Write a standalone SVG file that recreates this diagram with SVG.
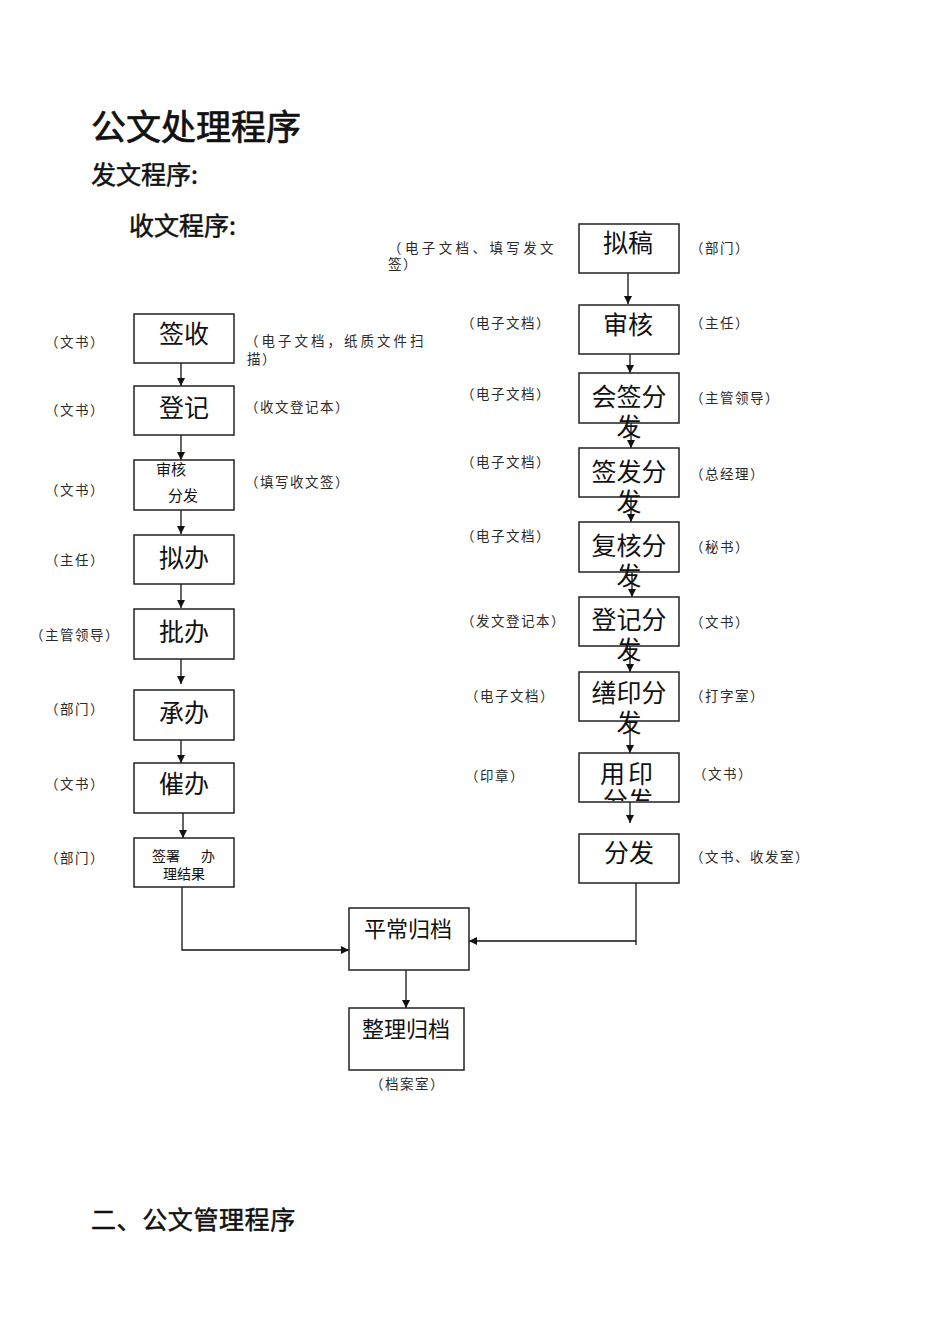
<svg xmlns="http://www.w3.org/2000/svg" width="950" height="1344" viewBox="0 0 950 1344">
<style>
text{font-family:"Noto Sans CJK SC","Noto Sans CJK JP",sans-serif;fill:#111}
.h1{font-size:35px;stroke:#111;stroke-width:0.7}
.h2{font-size:25px;stroke:#111;stroke-width:0.5}
.bt{font-size:25px}
.mid{text-anchor:middle}
.sm{font-size:15px}
.lb{font-size:13.5px;fill:#2a2a2a;letter-spacing:1.5px}
.box{fill:#fff;stroke:#222;stroke-width:1.5}
.ln{fill:none;stroke:#111;stroke-width:1.3}
</style>
<defs>
<marker id="ah" viewBox="0 0 10 10" refX="10" refY="5" markerWidth="8" markerHeight="10" markerUnits="userSpaceOnUse" orient="auto">
<path d="M0,0 L10,5 L0,10 z" fill="#111"/>
</marker>
<clipPath id="clipYY"><rect x="580" y="754" width="98" height="47"/></clipPath>
</defs>
<rect width="950" height="1344" fill="#fff"/>

<g id="headings">
<text class="h1" x="91" y="140">公文处理程序</text>
<text class="h2" x="91" y="184">发文程序:</text>
<text class="h2" x="129" y="235">收文程序:</text>
<text class="h2" x="91" y="1229" style="letter-spacing:0.6px">二、公文管理程序</text>
</g>

<g id="connectors">
<line class="ln" x1="181" y1="363" x2="181" y2="386" marker-end="url(#ah)"/>
<line class="ln" x1="181" y1="435" x2="181" y2="460" marker-end="url(#ah)"/>
<line class="ln" x1="181" y1="510" x2="181" y2="534" marker-end="url(#ah)"/>
<line class="ln" x1="181" y1="584" x2="181" y2="608" marker-end="url(#ah)"/>
<line class="ln" x1="181" y1="659" x2="181" y2="684" marker-end="url(#ah)"/>
<line class="ln" x1="181" y1="740" x2="181" y2="763" marker-end="url(#ah)"/>
<line class="ln" x1="183" y1="813" x2="183" y2="838" marker-end="url(#ah)"/>
<polyline class="ln" points="182,887 182,950 349,950" marker-end="url(#ah)"/>

<line class="ln" x1="628" y1="273" x2="628" y2="304" marker-end="url(#ah)"/>
<line class="ln" x1="630" y1="354" x2="630" y2="373" marker-end="url(#ah)"/>
<line class="ln" x1="631" y1="423" x2="631" y2="448" marker-end="url(#ah)"/>
<line class="ln" x1="631" y1="497" x2="631" y2="522" marker-end="url(#ah)"/>
<line class="ln" x1="632" y1="572" x2="632" y2="597" marker-end="url(#ah)"/>
<line class="ln" x1="630" y1="646" x2="630" y2="672" marker-end="url(#ah)"/>
<line class="ln" x1="630" y1="721" x2="630" y2="753" marker-end="url(#ah)"/>
<line class="ln" x1="630" y1="802" x2="630" y2="823" marker-end="url(#ah)"/>
<line class="ln" x1="636" y1="883" x2="636" y2="945"/>
<line class="ln" x1="636" y1="941" x2="469" y2="941" marker-end="url(#ah)"/>

<line class="ln" x1="406" y1="970" x2="406" y2="1008" marker-end="url(#ah)"/>
</g>

<!-- Left column (收文) -->
<g id="n-qianshou"><rect class="box" x="134" y="314" width="100" height="49"/><text class="bt mid" x="184" y="343">签收</text></g>
<g id="n-dengji"><rect class="box" x="134" y="386" width="100" height="49"/><text class="bt mid" x="184" y="417">登记</text></g>
<g id="n-shenhefenfa"><rect class="box" x="134" y="460" width="100" height="50"/><text class="sm" x="156" y="475">审核</text><text class="sm" x="168" y="501">分发</text></g>
<g id="n-niban"><rect class="box" x="134" y="535" width="100" height="49"/><text class="bt mid" x="184" y="567">拟办</text></g>
<g id="n-piban"><rect class="box" x="134" y="609" width="100" height="50"/><text class="bt mid" x="184" y="640.5">批办</text></g>
<g id="n-chengban"><rect class="box" x="134" y="690" width="100" height="50"/><text class="bt mid" x="184" y="721.5">承办</text></g>
<g id="n-cuiban"><rect class="box" x="134" y="763" width="100" height="50"/><text class="bt mid" x="184" y="793">催办</text></g>
<g id="n-qianshu"><rect class="box" x="134" y="838" width="100" height="49"/><text style="font-size:14px"><tspan x="152" y="861">签署</tspan><tspan x="201" y="861">办</tspan><tspan x="163" y="879">理结果</tspan></text></g>

<!-- Right column (发文) -->
<g id="n-nigao"><rect class="box" x="579" y="224" width="100" height="49"/><text class="bt mid" x="628" y="252">拟稿</text></g>
<g id="n-shenhe"><rect class="box" x="579" y="305" width="100" height="49"/><text class="bt mid" x="628" y="333.5">审核</text></g>
<g id="n-huiqian"><rect class="box" x="579" y="373" width="100" height="50"/><text class="bt mid"><tspan x="629" y="405.5">会签分</tspan><tspan x="629" y="435.5">发</tspan></text></g>
<g id="n-qianfa"><rect class="box" x="579" y="448" width="100" height="49"/><text class="bt mid"><tspan x="629" y="480.5">签发分</tspan><tspan x="629" y="510.5">发</tspan></text></g>
<g id="n-fuhe"><rect class="box" x="579" y="522" width="100" height="50"/><text class="bt mid"><tspan x="629" y="554.5">复核分</tspan><tspan x="629" y="584.5">发</tspan></text></g>
<g id="n-dengjifenfa"><rect class="box" x="579" y="597" width="100" height="49"/><text class="bt mid"><tspan x="629" y="628.5">登记分</tspan><tspan x="629" y="658.5">发</tspan></text></g>
<g id="n-shanyin"><rect class="box" x="579" y="672" width="100" height="49"/><text class="bt mid"><tspan x="629" y="702">缮印分</tspan><tspan x="629" y="732">发</tspan></text></g>
<g id="n-yongyin"><rect class="box" x="579" y="753" width="100" height="49"/><text class="bt mid" clip-path="url(#clipYY)"><tspan x="628" y="782.5" style="letter-spacing:3px">用印</tspan><tspan x="628" y="810">分发</tspan></text></g>
<g id="n-fenfa"><rect class="box" x="579" y="834" width="100" height="49"/><text class="bt mid" x="629" y="861.5">分发</text></g>

<!-- Bottom -->
<g id="n-pingchang"><rect class="box" x="349" y="908" width="120" height="62"/><text class="mid" style="font-size:22px" x="408" y="937">平常归档</text></g>
<g id="n-zhengli"><rect class="box" x="349" y="1008" width="115" height="62"/><text class="mid" style="font-size:22px" x="406" y="1037">整理归档</text></g>

<g id="labels">
<text class="lb" x="45" y="347">（文书）</text>
<text class="lb" x="45" y="415">（文书）</text>
<text class="lb" x="45" y="495">（文书）</text>
<text class="lb" x="45" y="565">（主任）</text>
<text class="lb" x="30" y="640">（主管领导）</text>
<text class="lb" x="45" y="714">（部门）</text>
<text class="lb" x="45" y="789">（文书）</text>
<text class="lb" x="45" y="863">（部门）</text>

<text class="lb" style="letter-spacing:3px"><tspan x="245" y="346">（电子文档，纸质文件扫</tspan><tspan x="247" y="364" style="letter-spacing:1.5px">描）</tspan></text>
<text class="lb" x="245" y="412">（收文登记本）</text>
<text class="lb" x="245" y="487">（填写收文签）</text>

<text class="lb" style="letter-spacing:3.4px"><tspan x="388" y="253">（电子文档、填写发文</tspan><tspan x="388" y="269" style="letter-spacing:1.5px">签）</tspan></text>
<text class="lb" x="461" y="328">（电子文档）</text>
<text class="lb" x="461" y="399">（电子文档）</text>
<text class="lb" x="461" y="467">（电子文档）</text>
<text class="lb" x="461" y="541">（电子文档）</text>
<text class="lb" x="461" y="626">（发文登记本）</text>
<text class="lb" x="465" y="701">（电子文档）</text>
<text class="lb" x="465" y="781">（印章）</text>

<text class="lb" x="690" y="253">（部门）</text>
<text class="lb" x="690" y="328">（主任）</text>
<text class="lb" x="690" y="403">（主管领导）</text>
<text class="lb" x="690" y="479">（总经理）</text>
<text class="lb" x="690" y="552">（秘书）</text>
<text class="lb" x="690" y="627">（文书）</text>
<text class="lb" x="690" y="701">（打字室）</text>
<text class="lb" x="693" y="779">（文书）</text>
<text class="lb" x="690" y="862">（文书、收发室）</text>

<text class="lb" x="370" y="1089">（档案室）</text>
</g>
</svg>
